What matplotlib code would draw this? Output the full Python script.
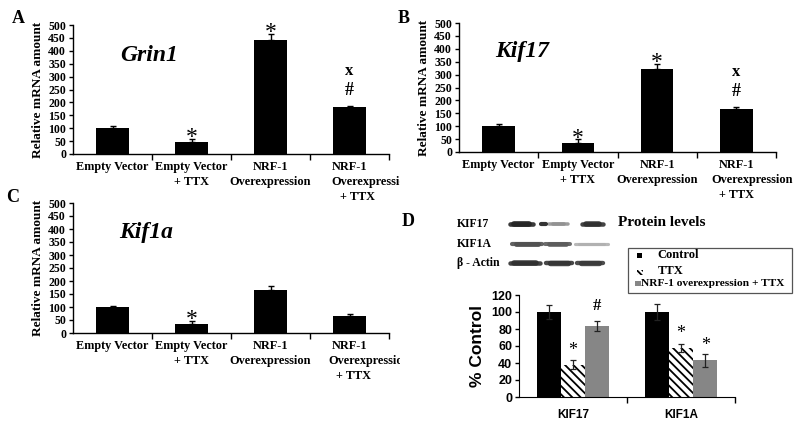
import matplotlib
matplotlib.use("Agg")
import matplotlib.pyplot as plt
from matplotlib.patches import Rectangle
from matplotlib.transforms import Bbox
import numpy as np

# ---------------- data ----------------
mrna_categories = ["Empty Vector", "Empty Vector\n+ TTX", "NRF-1\nOverexpression",
                   "NRF-1\nOverexpression\n+ TTX"]
grin1_values = [100, 45, 440, 182]
grin1_err = [8, 12, 25, 5]
grin1_marks = ["", "*", "*", "#"]
grin1_marks2 = ["", "", "", "x"]

kif17_values = [100, 36, 322, 166]
kif17_err = [8, 13, 20, 9]
kif17_marks = ["", "*", "*", "#"]
kif17_marks2 = ["", "", "", "x"]

kif1a_values = [100, 34, 164, 67]
kif1a_err = [5, 14, 17, 7]
kif1a_marks = ["", "*", "", ""]
kif1a_marks2 = ["", "", "", ""]

mrna_yticks = list(range(0, 501, 50))

proteins = ["KIF17", "KIF1A"]
control_values = [100, 100]
control_err = [8, 9]
ttx_values = [38, 57.5]
ttx_err = [5, 5]
nrf_ttx_values = [83.5, 43]
nrf_ttx_err = [6, 7.5]
ttx_marks = ["*", "*"]
nrf_marks = ["#", "*"]
protein_yticks = list(range(0, 121, 20))

legend_labels = ["Control", "TTX", "NRF-1 overexpression + TTX"]

blot_rows = ["KIF17", "KIF1A", "\u03b2 - Actin"]
# band intensity (0..1) per row, per lane
blot_intensity = [[0.95, 0.45, 0.9],
                  [0.75, 0.7, 0.3],
                  [0.9, 0.88, 0.85]]

SERIF = "Liberation Serif"
SANS = "Liberation Sans"
TICK_FS = 8.8
LSP = 1.3

W, H = 800, 425
fig = plt.figure(figsize=(8, 4.25), dpi=100)


def rect(l, t, r, b):
    return [l / W, 1 - b / H, (r - l) / W, (b - t) / H]


def mrna_panel(box, values, err, marks, marks2, title, title_xy, shift_pt, shift3_pt,
               clip_right=None):
    ax = fig.add_axes(rect(*box))
    x = np.arange(len(values))
    ax.bar(x, values, width=0.41, color="black", zorder=2)
    ax.errorbar(x, values, yerr=[np.zeros(len(err)), err], fmt="none",
                ecolor="black", elinewidth=1.0, capsize=2.5, capthick=1.0, zorder=3)
    ax.set_xlim(-0.5, len(values) - 0.5)
    ax.set_ylim(0, 500)
    ax.set_yticks(mrna_yticks)
    ax.set_yticklabels([str(v) for v in mrna_yticks], fontfamily=SERIF,
                       fontsize=8.5, fontweight="bold")
    ax.set_xticks(x)
    # last category: its lower lines sit offset to the right (as in the figure)
    shown = list(mrna_categories)
    last_lines = mrna_categories[-1].split("\n")
    shown[-1] = last_lines[0]
    labels = ax.set_xticklabels(shown, fontfamily=SERIF, fontsize=TICK_FS,
                                fontweight="bold", linespacing=LSP)
    extra = []
    for k, (line, dx) in enumerate(zip(last_lines[1:], [shift_pt, shift3_pt])):
        extra.append(ax.annotate(line, (x[-1], 0), xytext=(dx, -20.3 - 10.8 * k),
                                 textcoords="offset points", ha="center", va="center",
                                 fontfamily=SERIF, fontsize=TICK_FS, fontweight="bold",
                                 annotation_clip=False))
    if clip_right is not None:
        for t in list(labels) + extra:
            t.set_clip_box(Bbox.from_extents(0, 0, clip_right, H))
            t.set_clip_on(True)
    ax.set_xticks(np.arange(len(values)) + 0.5, minor=True)
    ax.tick_params(axis="x", which="major", length=0, pad=5)
    ax.tick_params(axis="x", which="minor", length=4, width=1, direction="out")
    ax.tick_params(axis="y", length=3, width=1, direction="out", pad=2)
    for s in ["top", "right"]:
        ax.spines[s].set_visible(False)
    for s in ["left", "bottom"]:
        ax.spines[s].set_linewidth(1.0)
    ax.set_ylabel("Relative mRNA amount", fontfamily=SERIF, fontsize=9.5,
                  fontweight="bold", labelpad=3)
    for i in x:
        top = values[i] + err[i]
        if marks[i] == "*":
            ax.annotate("*", (i, top), xytext=(0, -3), textcoords="offset points",
                        ha="center", va="baseline", fontfamily=SERIF, fontsize=17)
        elif marks[i]:
            ax.annotate(marks[i], (i, top), xytext=(0, 5), textcoords="offset points",
                        ha="center", va="bottom", fontfamily=SERIF, fontsize=13,
                        fontweight="bold")
        if marks2[i]:
            ax.annotate(marks2[i], (i, top), xytext=(0, 19), textcoords="offset points",
                        ha="center", va="bottom", fontfamily=SERIF, fontsize=12,
                        fontweight="bold")
    ax.text(title_xy[0], title_xy[1], title, transform=ax.transAxes, ha="center",
            va="center", fontfamily=SERIF, fontsize=17, fontweight="bold",
            style="italic")
    return ax


mrna_panel((73, 25, 389, 154), grin1_values, grin1_err, grin1_marks, grin1_marks2,
           "Grin1", (0.24, 0.76), 16, 6, clip_right=400)
mrna_panel((459, 23, 776, 152), kif17_values, kif17_err, kif17_marks, kif17_marks2,
           "Kif17", (0.2, 0.78), 11, 0)
mrna_panel((73, 203, 389, 333), kif1a_values, kif1a_err, kif1a_marks, kif1a_marks2,
           "Kif1a", (0.23, 0.77), 14, 3, clip_right=400)

# ---------------- panel D ----------------
axd = fig.add_axes(rect(519, 295, 735, 397))
xp = np.arange(len(proteins))
bw = 0.225
plt.rcParams["hatch.linewidth"] = 1.3
axd.bar(xp - bw, control_values, width=bw, color="black", zorder=2)
axd.bar(xp, ttx_values, width=bw, facecolor="white", edgecolor="black",
        linewidth=0, hatch="\\\\\\\\", zorder=2)
axd.bar(xp + bw, nrf_ttx_values, width=bw, color="#868686", zorder=2)
for off, vals, errs in [(-bw, control_values, control_err), (0, ttx_values, ttx_err),
                        (bw, nrf_ttx_values, nrf_ttx_err)]:
    axd.errorbar(xp + off, vals, yerr=errs, fmt="none", ecolor="#222222",
                 elinewidth=0.9, capsize=2, capthick=0.9, zorder=3)
for i in xp:
    axd.annotate(ttx_marks[i], (i, ttx_values[i] + ttx_err[i]), xytext=(0, 1),
                 textcoords="offset points", ha="center", va="bottom",
                 fontfamily=SERIF, fontsize=13)
    m = nrf_marks[i]
    if m == "#":
        axd.annotate(m, (i + bw, nrf_ttx_values[i] + nrf_ttx_err[i]), xytext=(0, 5),
                     textcoords="offset points", ha="center", va="bottom",
                     fontfamily=SERIF, fontsize=12, fontweight="bold")
    else:
        axd.annotate(m, (i + bw, nrf_ttx_values[i] + nrf_ttx_err[i]), xytext=(0, 0),
                     textcoords="offset points", ha="center", va="bottom",
                     fontfamily=SERIF, fontsize=13)
axd.set_xlim(-0.5, len(proteins) - 0.5)
axd.set_ylim(0, 120)
axd.set_yticks(protein_yticks)
axd.set_yticklabels([str(v) for v in protein_yticks], fontfamily=SANS, fontsize=9,
                    fontweight="bold")
axd.set_xticks(xp)
axd.set_xticklabels(proteins, fontfamily=SANS, fontsize=8.5, fontweight="bold")
axd.set_xticks(xp + 0.5, minor=True)
axd.tick_params(axis="x", which="major", length=0, pad=9)
axd.tick_params(axis="x", which="minor", length=4, width=1, direction="out")
axd.tick_params(axis="y", length=3, width=1, direction="out", pad=2)
for s in ["top", "right"]:
    axd.spines[s].set_visible(False)
axd.set_ylabel("% Control", fontfamily=SANS, fontsize=12.5, fontweight="bold",
               labelpad=4)

# ---------------- overlay: letters, blot, legend ----------------
ov = fig.add_axes([0, 0, 1, 1])
ov.set_xlim(0, W)
ov.set_ylim(H, 0)
ov.axis("off")
ov.patch.set_facecolor("none")

for letter, (lx, ly) in zip("ABCD", [(18, 18), (404, 18), (13, 197), (408, 221)]):
    ov.text(lx, ly, letter, ha="center", va="center", fontfamily=SERIF,
            fontsize=13, fontweight="bold")

# western blot
row_y = [224, 243.5, 263]
lane_x_rows = [
    [[510, 533], [549, 568], [582, 603]],
    [[512, 542], [545, 570], [575, 608]],
    [[510, 540], [546, 572], [577, 603]],
]
for r, name in enumerate(blot_rows):
    ov.text(457, row_y[r], name, ha="left", va="center", fontfamily=SERIF,
            fontsize=8.5, fontweight="bold")
    for ln, (x0, x1) in enumerate(lane_x_rows[r]):
        inten = blot_intensity[r][ln]
        g = 1 - inten
        col = (g * 0.85 + 0.1, g * 0.85 + 0.1, g * 0.85 + 0.1)
        ov.plot([x0, x1], [row_y[r], row_y[r]], color=col, lw=1.8 + 1.6 * inten,
                solid_capstyle="round", alpha=0.9)
        ov.plot([x0 + 4, x1 - 4], [row_y[r], row_y[r]], color=col, lw=3.0 * inten + 1.3,
                solid_capstyle="round", alpha=0.9)
# tiny speck on lane 2 of KIF17
ov.plot([541, 546], [224, 224], color="#333333", lw=3, solid_capstyle="round")

ov.text(618, 222, "Protein levels", ha="left", va="center", fontfamily=SERIF,
        fontsize=11, fontweight="bold")

# legend box
ov.add_patch(Rectangle((628, 248), 164, 45, facecolor="white", edgecolor="#555555",
                       lw=0.9))
ov.add_patch(Rectangle((636.5, 252.5), 5, 5, facecolor="black", edgecolor="none"))
ov.text(657, 254.5, legend_labels[0], ha="left", va="center", fontfamily=SERIF,
        fontsize=9, fontweight="bold")
ov.add_patch(Rectangle((636.5, 269.5), 6, 5, facecolor="white", edgecolor="black",
                       lw=0, hatch="\\\\\\\\\\\\"))
ov.text(658, 271.5, legend_labels[1], ha="left", va="center", fontfamily=SERIF,
        fontsize=9, fontweight="bold")
ov.add_patch(Rectangle((635, 280.5), 5.5, 5.5, facecolor="#868686", edgecolor="none"))
ov.text(641, 283.3, legend_labels[2], ha="left", va="center", fontfamily=SERIF,
        fontsize=8.2, fontweight="bold")

fig.savefig("out.png", dpi=100)
